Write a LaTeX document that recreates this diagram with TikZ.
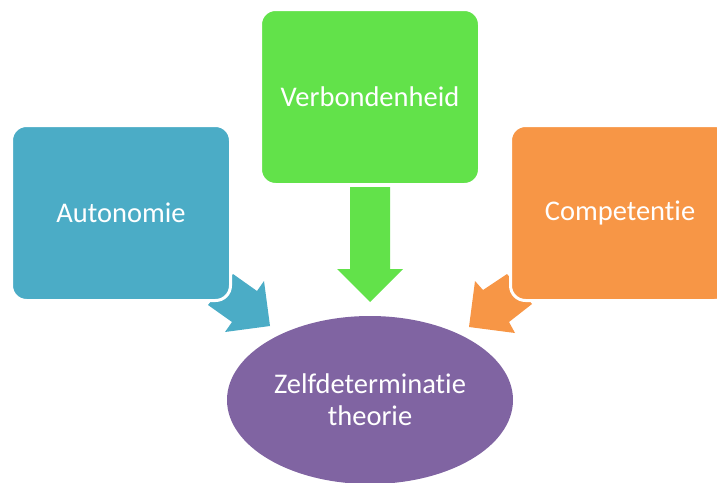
\documentclass[tikz,border=0pt]{standalone}
\usepackage{fontspec}
\setmainfont[Ligatures=NoCommon]{Carlito}
\usetikzlibrary{shapes.geometric}
\definecolor{cblue}{HTML}{4BACC6}
\definecolor{cgreen}{HTML}{62E24A}
\definecolor{corange}{HTML}{F79646}
\definecolor{cpurple}{HTML}{8064A2}
\begin{document}
\begin{tikzpicture}[x=1pt,y=-1pt,
  box/.style={rounded corners=15pt, draw=white, line width=3pt,
    minimum width=219pt, minimum height=175pt, inner sep=0pt,
    text=white, font=\fontsize{28.5}{32}\selectfont}]
\useasboundingbox (0,0) rectangle (717,482);
\clip (0,0) rectangle (717,482);
% block arrows, drawn beneath the boxes
\fill[cblue] (233,274) -- (257,291) -- (264,281) -- (270,326) -- (225,332) -- (232,322) -- (208,305) -- cycle;
\fill[corange] (507,274) -- (483,290) -- (475,281) -- (469,327) -- (515,333) -- (509,322) -- (532,304) -- cycle;
\fill[cgreen] (350,187) -- (390,187) -- (390,269) -- (403,269) -- (370,302) -- (337,269) -- (350,269) -- cycle;
% the three needs
\node[box, fill=cblue] (aut) at (121,213) {Autonomie};
\node[box, fill=cgreen] (ver) at (370,97) {Verbondenheid};
\node[box, fill=corange] (com) at (620,213) {Competentie};
% central theory
\node[ellipse, fill=cpurple, minimum width=286pt, minimum height=168pt, inner sep=0pt,
  text=white, align=center, font=\fontsize{28.5}{32}\selectfont] (zdt) at (370,400)
  {Zelfdeterminatie\\theorie};
\end{tikzpicture}
\end{document}
